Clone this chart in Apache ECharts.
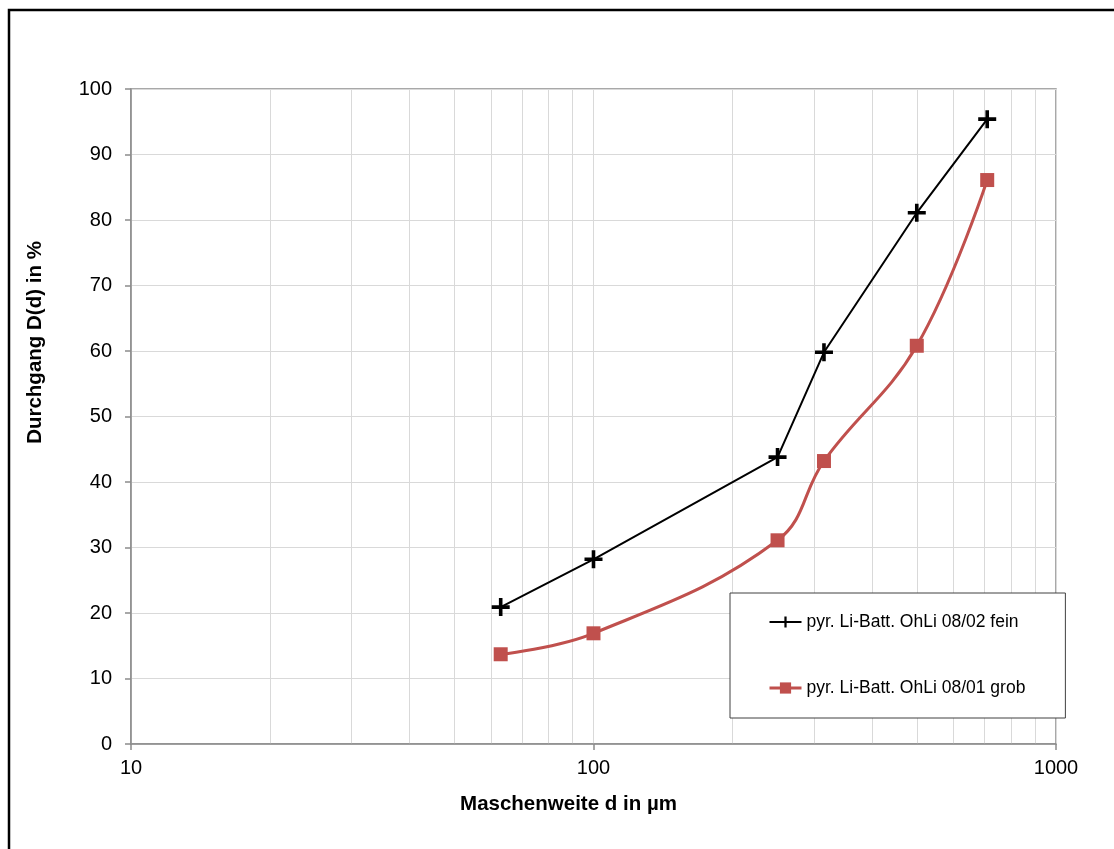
<!DOCTYPE html>
<html>
<head>
<meta charset="utf-8">
<script src="https://cdn.jsdelivr.net/npm/echarts@6/dist/echarts.min.js"></script>
<style>
html,body{margin:0;padding:0;background:#fff;}
#chart{width:1114px;height:849px;}
</style>
</head>
<body>
<div id="chart"></div>
<script>
const sizes = [63, 100, 250, 315, 500, 710];
const fein = [20.9, 28.2, 43.8, 59.8, 81.1, 95.4];
const grob = [13.7, 16.9, 31.1, 43.2, 60.8, 86.1];
const minorGridX = [20, 30, 40, 50, 60, 70, 80, 90, 200, 300, 400, 500, 600, 700, 800, 900];
const seriesNames = ['pyr. Li-Batt. OhLi 08/02 fein', 'pyr. Li-Batt. OhLi 08/01 grob'];
const xName = 'Maschenweite d in µm';
const yName = 'Durchgang D(d) in %';

const font = '"Liberation Sans", Arial, sans-serif';
const plusPath = 'path://M0,6.4 L16,6.4 L16,9.6 L0,9.6 Z M6.4,0 L9.6,0 L9.6,16 L6.4,16 Z';

const chart = echarts.init(document.getElementById('chart'), null, {renderer: 'canvas'});
chart.setOption({
  animation: false,
  backgroundColor: '#fff',
  textStyle: {fontFamily: font},
  graphic: [{
    type: 'rect', z: 100, silent: true,
    shape: {x: 9, y: 10, width: 1200, height: 1000},
    style: {fill: 'none', stroke: '#000', lineWidth: 2.5}
  }],
  grid: {
    left: 131, top: 89, width: 925, height: 655,
    show: true, borderColor: '#8c8c8c', borderWidth: 1.5, backgroundColor: 'transparent'
  },
  legend: {
    left: 730, top: 593, orient: 'vertical', z: 50,
    backgroundColor: '#fff', borderColor: '#404040', borderWidth: 1,
    padding: [20, 40, 21, 38], itemGap: 48,
    itemWidth: 32, itemHeight: 14,
    textStyle: {fontFamily: font, fontSize: 17.5, color: '#000'},
    data: [
      {name: seriesNames[0], lineStyle: {width: 2}},
      {name: seriesNames[1], lineStyle: {width: 3}}
    ]
  },
  xAxis: {
    type: 'log', logBase: 10, min: 10, max: 1000,
    name: xName, nameLocation: 'middle', nameGap: 50,
    nameTextStyle: {fontFamily: font, fontSize: 20.5, fontWeight: 'bold', color: '#000', padding: [0, 50, 0, 0]},
    axisLine: {lineStyle: {color: '#8c8c8c', width: 1.5}},
    axisTick: {show: true, length: 6, lineStyle: {color: '#8c8c8c', width: 1.5}},
    axisLabel: {fontFamily: font, fontSize: 20, color: '#000', margin: 14, formatter: v => String(Math.round(v))},
    splitLine: {show: true, lineStyle: {color: '#d9d9d9', width: 1}}
  },
  yAxis: {
    type: 'value', min: 0, max: 100, interval: 10,
    name: yName, nameLocation: 'middle', nameGap: 85, nameRotate: 90,
    nameTextStyle: {fontFamily: font, fontSize: 20.5, fontWeight: 'bold', color: '#000', padding: [0, 0, 0, 148]},
    axisLine: {show: true, lineStyle: {color: '#8c8c8c', width: 1.5}},
    axisTick: {show: true, length: 6, lineStyle: {color: '#8c8c8c', width: 1.5}},
    axisLabel: {fontFamily: font, fontSize: 20, color: '#000', margin: 19},
    splitLine: {show: true, lineStyle: {color: '#d9d9d9', width: 1}}
  },
  series: [
    {
      name: 'minorGrid', type: 'line', data: [], silent: true, z: 0,
      markLine: {
        silent: true, symbol: 'none', animation: false, z: 0,
        label: {show: false},
        lineStyle: {color: '#d9d9d9', width: 1, type: 'solid'},
        data: minorGridX.map(v => ({xAxis: v}))
      }
    },
    {
      name: seriesNames[0], type: 'line', z: 3,
      data: sizes.map((s, i) => [s, fein[i]]),
      symbol: plusPath, symbolSize: 18, showAllSymbol: true,
      itemStyle: {color: '#000'},
      lineStyle: {color: '#000', width: 2}
    },
    {
      name: seriesNames[1], type: 'line', z: 2,
      data: sizes.map((s, i) => [s, grob[i]]),
      smooth: 0.4,
      symbol: 'rect', symbolSize: 14,
      itemStyle: {color: '#c0504d'},
      lineStyle: {color: '#c0504d', width: 3}
    }
  ]
});
</script>
</body>
</html>
